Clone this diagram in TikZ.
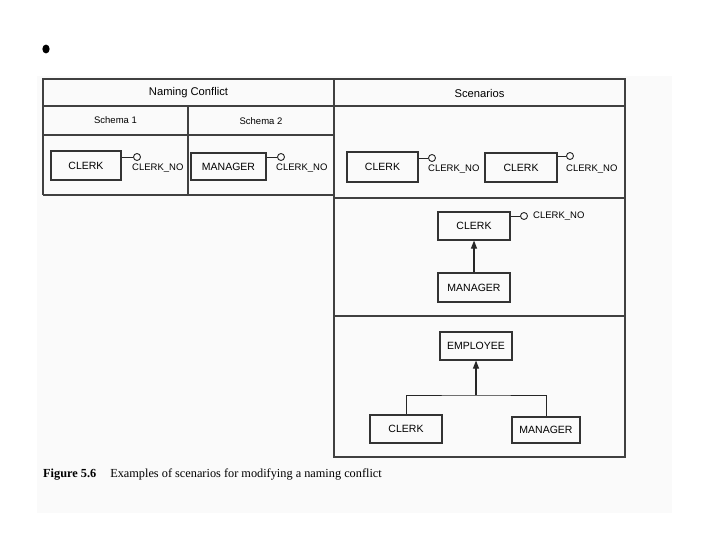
\documentclass[tikz,border=0pt]{standalone}
\usepackage{fontspec}
\setmainfont{Liberation Sans}
\newfontfamily\capfont{Liberation Serif}
\usetikzlibrary{arrows.meta}
\tikzset{
  ent/.style={draw=black!80, line width=1.1pt, rectangle, inner sep=0pt, font=\fontsize{10.5}{12}\selectfont},
  attr/.style={draw=black!85, line width=0.9pt, circle, inner sep=0pt, minimum size=7pt},
  lab/.style={inner sep=0pt, font=\fontsize{9.5}{11}\selectfont},
  hdr/.style={inner sep=0pt, font=\fontsize{11.2}{13}\selectfont},
  grid/.style={draw=black!75, line width=1.1pt},
  lnk/.style={draw=black!85, line width=0.9pt},
  isa/.style={draw=black!85, line width=1.1pt, -{Triangle[length=8pt,width=6pt]}},
}
\begin{document}
\begin{tikzpicture}[x=1pt,y=-1pt]
\useasboundingbox (0,0) rectangle (720,540);
\fill[white] (0,0) rectangle (720,540);
\fill[gray!4] (37,76) rectangle (672,513);
% bullet
\fill (46,49) ellipse (3.6 and 4.4);
% table grid
\draw[grid] (43,195) -- (43,79) -- (625,79) -- (625,457) -- (334,457) -- (334,79);
\draw[grid] (43,106) -- (625,106);
\draw[grid] (43,135) -- (334,135);
\draw[grid] (188,106) -- (188,195);
\draw[grid] (43,195) -- (334,195);
\draw[grid] (334,198) -- (625,198);
\draw[grid] (334,316) -- (625,316);
% headers
\node[hdr] (h1) at (188.5,92.5) {Naming Conflict};
\node[hdr] (h2) at (479.5,93.5) {Scenarios};
\node[lab] (sch1) at (115.5,120.5) {Schema 1};
\node[lab] (sch2) at (261,121.5) {Schema 2};
% schema 1
\node[ent, minimum width=70pt, minimum height=29pt] (s1clerk) at (86,165.5) {CLERK};
\node[attr] (a1) at (137,157) {};
\draw[lnk] (s1clerk.east |- a1) -- (a1);
\node[lab, anchor=west] (l1) at (132,168.5) {CLERK\_NO};
% schema 2
\node[ent, minimum width=75pt, minimum height=27pt] (s2mgr) at (228.5,166.5) {MANAGER};
\node[attr] (a2) at (281,157) {};
\draw[lnk] (s2mgr.east |- a2) -- (a2);
\node[lab, anchor=west] (l2) at (276,168.5) {CLERK\_NO};
% scenario 1
\node[ent, minimum width=71pt, minimum height=30pt] (sc1a) at (382.5,167) {CLERK};
\node[attr] (a3) at (432,158) {};
\draw[lnk] (sc1a.east |- a3) -- (a3);
\node[lab, anchor=west] (l3) at (428,169.5) {CLERK\_NO};
\node[ent, minimum width=72pt, minimum height=29pt] (sc1b) at (521,167.5) {CLERK};
\node[attr] (a4) at (570,156) {};
\draw[lnk] (sc1b.east |- a4) -- (a4);
\node[lab, anchor=west] (l4) at (566,169.5) {CLERK\_NO};
% scenario 2
\node[ent, minimum width=72pt, minimum height=28pt] (sc2clerk) at (474,226) {CLERK};
\node[attr] (a5) at (524,216) {};
\draw[lnk] (sc2clerk.east |- a5) -- (a5);
\node[lab, anchor=west] (l5) at (533,216.5) {CLERK\_NO};
\node[ent, minimum width=72pt, minimum height=29pt] (sc2mgr) at (474,287.5) {MANAGER};
\draw[isa] (sc2mgr.north) -- (sc2clerk.south);
% scenario 3
\node[ent, minimum width=72pt, minimum height=28pt] (emp) at (476,346) {EMPLOYEE};
\node[ent, minimum width=72pt, minimum height=28pt] (s3clerk) at (406,429) {CLERK};
\node[ent, minimum width=68pt, minimum height=26pt] (s3mgr) at (546,430) {MANAGER};
\coordinate (j) at (476,395);
\draw[lnk] (s3clerk.north) |- (j) -| (s3mgr.north);
\draw[isa] (j) -- (emp.south);
% caption
\node[anchor=west, inner sep=0pt, font=\capfont\fontsize{12.3}{14}\selectfont] (cap) at (43,474.5)
  {\textbf{Figure 5.6}\hspace{14pt}Examples of scenarios for modifying a naming conflict};
\end{tikzpicture}
\end{document}
